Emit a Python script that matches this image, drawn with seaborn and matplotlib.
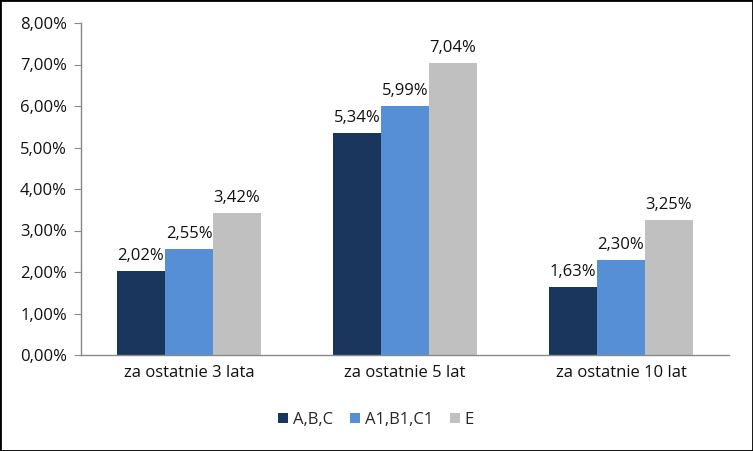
import pandas as pd
import numpy as np
import seaborn as sns
import matplotlib.pyplot as plt
from matplotlib.ticker import FuncFormatter

# Data
periods = ['za ostatnie 3 lata', 'za ostatnie 5 lat', 'za ostatnie 10 lat']
groups = ['A,B,C', 'A1,B1,C1', 'E']
abc = [2.02, 5.34, 1.63]
a1b1c1 = [2.55, 5.99, 2.30]
e = [3.42, 7.04, 3.25]
colors = ['#1b365d', '#568fd6', '#c0c0c0']

df = pd.DataFrame({
    'okres': periods * 3,
    'grupa': [groups[0]] * 3 + [groups[1]] * 3 + [groups[2]] * 3,
    'wartosc': abc + a1b1c1 + e,
})

sns.set_style('white')
plt.rcParams['font.family'] = ['Open Sans', 'DejaVu Sans']

fig = plt.figure(figsize=(7.53, 4.51), dpi=100)
ax = fig.add_axes([81 / 753, 1 - 355 / 451, 648 / 753, 332 / 451])

sns.barplot(data=df, x='okres', y='wartosc', hue='grupa', order=periods,
            hue_order=groups, palette=colors, width=0.667, gap=0,
            saturation=1, linewidth=0, ax=ax, legend=True)

# value labels
for cont in ax.containers:
    labels = [f'{v:.2f}%'.replace('.', ',') for v in cont.datavalues]
    ax.bar_label(cont, labels=labels, padding=5, fontsize=12, color='#111111')

ax.set_ylim(0, 8)
ax.set_xlim(-0.5, 2.5)
ax.set_yticks(np.arange(0, 9, 1))
ax.yaxis.set_major_formatter(FuncFormatter(lambda v, p: f'{v:.2f}%'.replace('.', ',')))
ax.set_xlabel('')
ax.set_ylabel('')
ax.tick_params(axis='y', length=5, color='#888888', labelsize=12, labelcolor='#111111', left=True, pad=5)
ax.tick_params(axis='x', length=0, labelsize=12, labelcolor='#111111', pad=7)
for s in ['top', 'right']:
    ax.spines[s].set_visible(False)
for s in ['left', 'bottom']:
    ax.spines[s].set_color('#888888')
    ax.spines[s].set_linewidth(1)

ax.legend(loc='center', bbox_to_anchor=(376 / 753, 1 - 420 / 451), bbox_transform=fig.transFigure,
          ncol=3, frameon=False, fontsize=12, handlelength=0.6, handleheight=0.6,
          handletextpad=0.3, columnspacing=1.0)

# border round the figure
fig.patches.append(plt.Rectangle((0, 0), 1, 1, transform=fig.transFigure,
                                 fill=False, edgecolor='black', linewidth=2))

fig.savefig('out.png', dpi=100)
